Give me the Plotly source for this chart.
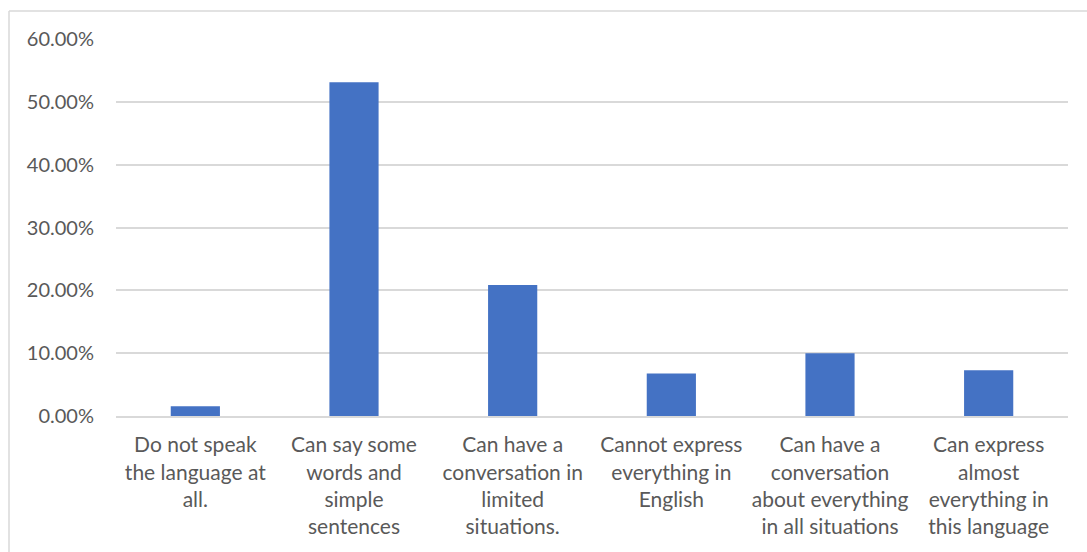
import plotly.graph_objects as go

categories = [
    "Do not speak the language at all.",
    "Can say some words and simple sentences",
    "Can have a conversation in limited situations.",
    "Cannot express everything in English",
    "Can have a conversation about everything in all situations",
    "Can express almost everything in this language",
]
tick_labels = [
    "Do not speak<br>the language at<br>all.",
    "Can say some<br>words and<br>simple<br>sentences",
    "Can have a<br>conversation in<br>limited<br>situations.",
    "Cannot express<br>everything in<br>English",
    "Can have a<br>conversation<br>about everything<br>in all situations",
    "Can express<br>almost<br>everything in<br>this language",
]
values = [0.0155, 0.531, 0.2085, 0.0675, 0.100, 0.073]
y_ticks = [0, 0.1, 0.2, 0.3, 0.4, 0.5, 0.6]

W, H = 1087, 552
L, R, T, B = 116, 19, 39, 135.5

fig = go.Figure(go.Bar(
    x=categories, y=values,
    marker=dict(color="#4472C4", line=dict(width=0)),
    width=0.31,
))

family = "Lato, Carlito, Calibri, sans-serif"
xfont = dict(family=family, size=21, color="#595959")
yfont = dict(family=family, size=20, color="#595959")

fig.update_layout(
    width=W, height=H,
    margin=dict(l=L, r=R, t=T, b=B, pad=0),
    paper_bgcolor="white", plot_bgcolor="white",
    font=xfont,
    showlegend=False,
    bargap=0.69,
)
fig.update_xaxes(
    tickmode="array", tickvals=categories, ticktext=tick_labels,
    tickangle=0, showgrid=False, showline=True, linecolor="#d9d9d9", linewidth=2,
    ticks="", ticklabelstandoff=9, tickfont=xfont,
)
fig.update_yaxes(
    range=[0, 0.6], tickvals=y_ticks, tickformat=".2%",
    showgrid=True, gridcolor="#d9d9d9", gridwidth=2,
    showline=False, zeroline=False, ticks="", ticklabelstandoff=21, tickfont=yfont,
)

pw = W - L - R
ph = H - T - B
def px_x(x):
    return (x - L) / pw
def px_y(y):
    return (H - B - y) / ph

fig.add_shape(type="line", xref="paper", yref="paper",
              x0=px_x(9), x1=px_x(W + 5), y0=px_y(11), y1=px_y(11),
              line=dict(color="#d9d9d9", width=1.5))
fig.add_shape(type="line", xref="paper", yref="paper",
              x0=px_x(9), x1=px_x(9), y0=px_y(11), y1=px_y(H + 5),
              line=dict(color="#d9d9d9", width=1.5))

fig.write_html("out.html")
